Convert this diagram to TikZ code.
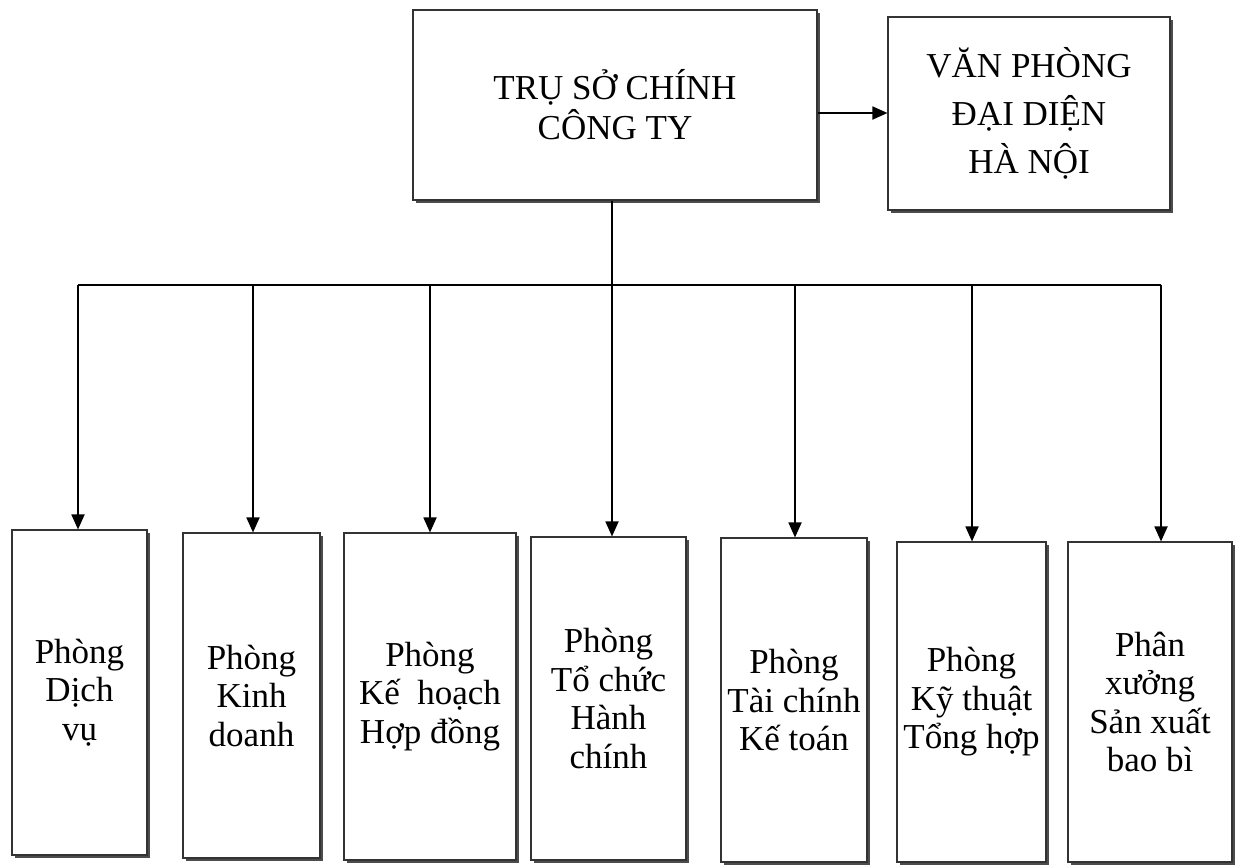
\documentclass[tikz,border=0pt]{standalone}
\usepackage{fontspec}
\setmainfont{Liberation Serif}
\usetikzlibrary{arrows.meta,shadows}
\begin{document}
\begin{tikzpicture}[x=1pt,y=-1pt,
  boxstyle/.style={draw=black!80, line width=1.1pt, fill=white, rectangle, inner sep=0pt,
    align=center, font=\fontsize{35}{38.5}\selectfont,
    drop shadow={shadow xshift=2.5pt, shadow yshift=-3pt, fill=black!70, opacity=1}},
  conn/.style={line width=1.8pt, black},
  arr/.style={conn, -{Triangle[length=15pt,width=13pt]}}
]
\useasboundingbox (0,0) rectangle (1238,865);
% top boxes
\node[boxstyle, minimum width=404pt, minimum height=190pt,
      font=\fontsize{35}{40}\selectfont] (main) at (615,105) {TRỤ SỞ CHÍNH\\CÔNG TY};
\node[boxstyle, minimum width=282pt, minimum height=193pt,
      font=\fontsize{35}{48}\selectfont] (rep) at (1029,113.5) {VĂN PHÒNG\\ĐẠI DIỆN\\HÀ NỘI};
% bottom boxes
\node[boxstyle, minimum width=135pt, minimum height=325pt] (b1) at (79.5,692.5) {Phòng\\Dịch\\vụ};
\node[boxstyle, minimum width=137pt, minimum height=325pt] (b2) at (251.5,695.5) {Phòng\\Kinh\\doanh};
\node[boxstyle, minimum width=172pt, minimum height=327pt] (b3) at (430,696.5) {Phòng\\Kế\ \ hoạch\\Hợp đồng};
\node[boxstyle, minimum width=155pt, minimum height=323pt] (b4) at (608.5,698.5) {Phòng\\Tổ chức\\Hành\\chính};
\node[boxstyle, minimum width=146pt, minimum height=324pt] (b5) at (794,700) {Phòng\\Tài chính\\Kế toán};
\node[boxstyle, minimum width=149pt, minimum height=320pt] (b6) at (971.5,702) {Phòng\\Kỹ thuật\\Tổng hợp};
\node[boxstyle, minimum width=164pt, minimum height=320pt] (b7) at (1150,702) {Phân\\xưởng\\Sản xuất\\bao bì};
% bus coordinates
\coordinate (bus1) at (78,285);
\coordinate (bus2) at (253,285);
\coordinate (bus3) at (430,285);
\coordinate (bus4) at (612,285);
\coordinate (bus5) at (795,285);
\coordinate (bus6) at (972,285);
\coordinate (bus7) at (1161,285);
% connectors
\draw[arr] ([yshift=-8pt]main.east) -- ([yshift=-8pt]main.east -| rep.west);
\draw[conn] (main.south -| bus4) -- (bus4);
\draw[conn] (bus1) -- (bus7);
\foreach \i in {1,...,7} {
  \draw[arr] (bus\i) -- (bus\i |- b\i.north);
}
\end{tikzpicture}
\end{document}
